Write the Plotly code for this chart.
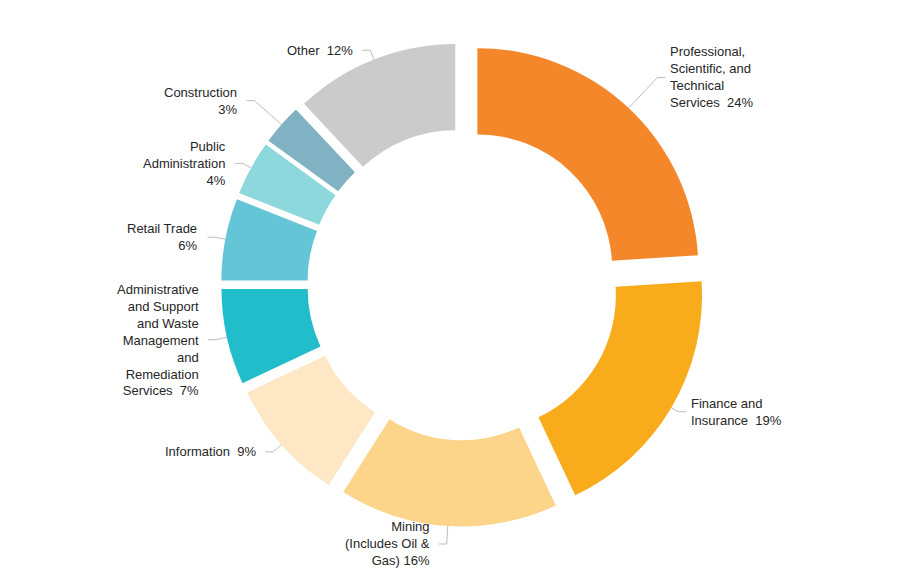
import math
import plotly.graph_objects as go

# ---------------- data ----------------
categories = [
    "Professional, Scientific, and Technical Services",
    "Finance and Insurance",
    "Mining (Includes Oil & Gas)",
    "Information",
    "Administrative and Support and Waste Management and Remediation Services",
    "Retail Trade",
    "Public Administration",
    "Construction",
    "Other",
]
shares = [24, 19, 16, 9, 7, 6, 4, 3, 12]
display_labels = [
    "Professional,<br>Scientific, and<br>Technical<br>Services",
    "Finance and<br>Insurance",
    "Mining<br>(Includes Oil &<br>Gas)",
    "Information",
    "Administrative<br>and Support<br>and Waste<br>Management<br>and<br>Remediation<br>Services",
    "Retail Trade",
    "Public<br>Administration",
    "Construction",
    "Other",
]
pct_separators = ["\u00a0 ", "\u00a0 ", " ", "\u00a0 ", "\u00a0 ", "<br>", "<br>", "<br>", "\u00a0 "]

# ---------------- style ----------------
colors = ["#F5872B", "#F8AB1B", "#FCD58B", "#FDE7C4", "#21BDCA",
          "#64C5D7", "#8DD8DC", "#80B2C3", "#CBCBCB"]
leader_len = [42, 8, 18, 11, 11, 10, 9, 36, 10]   # px from slice edge to elbow
W, H = 924, 569
CX, CY = 463, 284.5          # pie centre in px
R_TOTAL = 242                # outer radius incl. pull, px
PULL = 0.095
HOLE = 0.61
HSEG = 8
GAP_L, GAP_R = 7, 3
TEXT_COLOR = "#262626"
LINE_COLOR = "#BDBDBD"

fig = go.Figure(go.Pie(
    labels=categories,
    values=shares,
    sort=False,
    direction="clockwise",
    rotation=0,
    hole=HOLE,
    pull=[PULL] * len(shares),
    marker=dict(colors=colors, line=dict(width=0)),
    textinfo="none",
    hoverinfo="label+percent",
    showlegend=False,
    domain=dict(
        x=[(CX - R_TOTAL) / W, (CX + R_TOTAL) / W],
        y=[1 - (CY + R_TOTAL) / H, 1 - (CY - R_TOTAL) / H],
    ),
))


def px2paper(x, y):
    return x / W, 1 - y / H


total = sum(shares)
cum = 0
annotations = []
shapes = []
for i, v in enumerate(shares):
    mid = (cum + v / 2) / total * 2 * math.pi
    cum += v
    sx, sy = math.sin(mid), -math.cos(mid)
    ex, ey = CX + R_TOTAL * sx, CY + R_TOTAL * sy
    r2 = R_TOTAL + leader_len[i]
    bx, by = CX + r2 * sx, CY + r2 * sy
    right_side = sx > 0
    hx = bx + (HSEG if right_side else -HSEG)
    tx = hx + (GAP_R if right_side else -GAP_L)
    p0, p1, p2 = px2paper(ex, ey), px2paper(bx, by), px2paper(hx, by)
    shapes.append(dict(
        type="path", xref="paper", yref="paper",
        path=f"M {p0[0]},{p0[1]} L {p1[0]},{p1[1]} L {p2[0]},{p2[1]}",
        line=dict(color=LINE_COLOR, width=1),
    ))
    ax, ay = px2paper(tx, by)
    annotations.append(dict(
        x=ax, y=ay, xref="paper", yref="paper",
        text=f"{display_labels[i]}{pct_separators[i]}{v}%",
        showarrow=False,
        xanchor="left" if right_side else "right",
        yanchor="middle",
        align="left" if right_side else "right",
        font=dict(family="Liberation Sans, Arial, sans-serif", size=13, color=TEXT_COLOR),
    ))

fig.update_layout(
    width=W, height=H,
    margin=dict(l=0, r=0, t=0, b=0),
    paper_bgcolor="white",
    plot_bgcolor="white",
    shapes=shapes,
    annotations=annotations,
)

fig.write_html("out.html")
